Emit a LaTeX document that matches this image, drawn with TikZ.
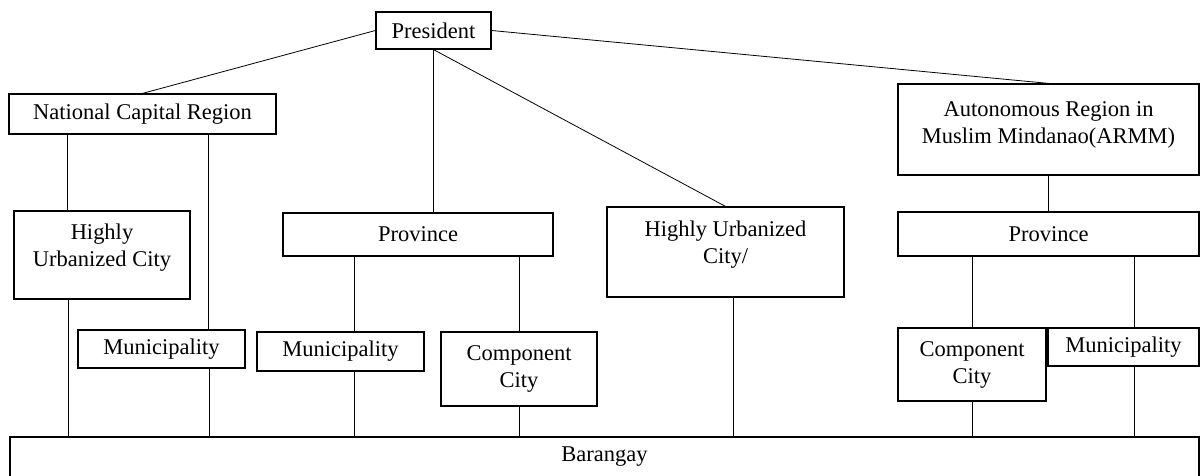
\documentclass[tikz,border=0pt]{standalone}
\usepackage{fontspec}
\setmainfont{Liberation Serif}
\usetikzlibrary{positioning,calc}

\begin{document}
\begin{tikzpicture}[x=1pt, y=-1pt,
      every node/.style={font=\fontsize{22.5}{27}\selectfont},
      box/.style={draw, line width=1.2pt, inner sep=2pt, align=center},
      link/.style={line width=0.8pt}]
    \useasboundingbox (0,0) rectangle (1200,476);
    % top levels
    \node (pres) [box, minimum width=115, minimum height=37] at (433.5,30.5) {President};
    \node (ncr) [box, minimum width=267, minimum height=40] at (142.5,114) {National Capital Region};
    \node (armm) [box, minimum width=301, minimum height=91, text depth=13pt] at (1048.5,129.5)
      {Autonomous Region in\\Muslim Mindanao(ARMM)};
    \node (huc1) [box, minimum width=176, minimum height=88, text depth=19pt] at (102,255) {Highly\\Urbanized City};
    \node (prov1) [box, minimum width=270, minimum height=43] at (418,234.5) {Province};
    \node (huc2) [box, minimum width=237, minimum height=90, text depth=20pt] at (725.5,252) {Highly Urbanized\\City/};
    \node (prov2) [box, minimum width=301, minimum height=44] at (1048.5,234) {Province};
    % lower levels
    \node (mun1) [box, minimum width=167, minimum height=38] at (161.5,349) {Municipality};
    \node (mun2) [box, minimum width=167, minimum height=39] at (340.5,351.5) {Municipality};
    \node (cc1) [box, minimum width=156, minimum height=74] at (519,369) {Component\\City};
    \node (cc2) [box, minimum width=148, minimum height=73] at (972,364.5) {Component\\City};
    \node (mun3) [box, minimum width=151, minimum height=38] at (1123.5,347) {Municipality};
    \node (bar) [box, minimum width=1189, minimum height=40] at (604.5,457) {Barangay};

    % links from the president
    \draw[link] (pres.west) -- (ncr.north);
    \draw[link] (pres.south) -- (pres.south |- prov1.north);
    \draw[link] (pres.south) -- (huc2.north);
    \draw[link] (pres.east) -- (armm.north);
    % regions
    \draw[link] ([xshift=-75.5pt]ncr.south) -- ([xshift=-75.5pt]ncr.south |- huc1.north);
    \draw[link] ([xshift=65.5pt]ncr.south) -- ([xshift=65.5pt]ncr.south |- mun1.north);
    \draw[link] (armm.south) -- (armm.south |- prov2.north);
    % provinces
    \draw[link] ([xshift=13.5pt]mun2.north |- prov1.south) -- ([xshift=13.5pt]mun2.north);
    \draw[link] (cc1.north |- prov1.south) -- (cc1.north);
    \draw[link] (cc2.north |- prov2.south) -- (cc2.north);
    \draw[link] ([xshift=10.5pt]mun3.north |- prov2.south) -- ([xshift=10.5pt]mun3.north);
    % down to barangay
    \draw[link] ([xshift=-34pt]huc1.south) -- ([xshift=-34pt]huc1.south |- bar.north);
    \draw[link] ([xshift=47.5pt]mun1.south) -- ([xshift=47.5pt]mun1.south |- bar.north);
    \draw[link] ([xshift=13.5pt]mun2.south) -- ([xshift=13.5pt]mun2.south |- bar.north);
    \draw[link] (cc1.south) -- (cc1.south |- bar.north);
    \draw[link] ([xshift=7.5pt]huc2.south) -- ([xshift=7.5pt]huc2.south |- bar.north);
    \draw[link] (cc2.south) -- (cc2.south |- bar.north);
    \draw[link] ([xshift=10.5pt]mun3.south) -- ([xshift=10.5pt]mun3.south |- bar.north);
\end{tikzpicture}
\end{document}
